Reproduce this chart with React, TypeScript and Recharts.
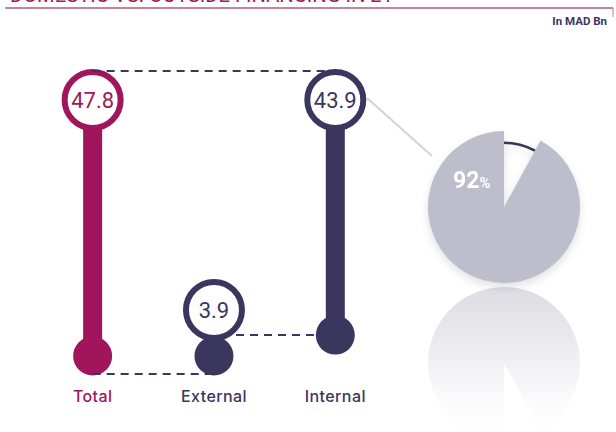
import { ComposedChart, Bar, XAxis, YAxis, ReferenceLine, PieChart, Pie, Cell } from 'recharts'

const CATEGORIES = ['Total', 'External', 'Internal']
const VALUES = [47.8, 3.9, 43.9]
const BASES = [0, 0, 3.9]
const COLORS = ['#a0155b', '#3a365e', '#3a365e']

const SHARE_NAMES = ['External', 'Internal']
const SHARE_VALUES = [8, 92]

const NAVY = '#3a365e'
const PIE_GREY = '#bebdcb'
const FONT = 'Roboto, "DejaVu Sans", sans-serif'

const data = CATEGORIES.map((name, i) => ({ name, base: BASES[i], value: VALUES[i] }))
const share = SHARE_NAMES.map((name, i) => ({ name, value: SHARE_VALUES[i] }))

function Lollipop(props: any) {
    const { x, y, width, height, index } = props
    const cx = x + width / 2
    const bottom = y + height
    const top = Math.min(y, bottom - 46)
    const color = COLORS[index]
    return (
        <g>
            <rect x={cx - 9.5} y={top} width={19} height={bottom - top} fill={color} />
            <circle cx={cx} cy={bottom} r={19.5} fill={color} />
            <circle cx={cx} cy={top} r={28} fill="#fff" stroke={color} strokeWidth={6} />
            <text x={cx} y={top + 8} textAnchor="middle" fontSize={22} fill={color} fontFamily={FONT}>
                {VALUES[index]}
            </text>
        </g>
    )
}

function Tick(props: any) {
    const { x, y, payload, index } = props
    return (
        <text x={x} y={y + 38} textAnchor="middle" fontSize={16} fontWeight={500} letterSpacing={0.4} fill={COLORS[index]} fontFamily='Inter, Roboto, sans-serif'>
            {payload.value}
        </text>
    )
}

const dashed = (dy: number, startPad = 0) => (p: any) => (
    <line x1={p.x1 + startPad} y1={p.y1 + dy} x2={p.x2} y2={p.y2 + dy} stroke={NAVY} strokeWidth={2} strokeDasharray="8 6" />
)

function PieLabel(p: any) {
    if (p.index !== 1) return null
    return (
        <text x={p.cx - 51} y={p.cy - 19} fill="#fff" fontWeight={700} fontFamily={FONT}>
            <tspan fontSize={23}>{SHARE_VALUES[1]}</tspan>
            <tspan fontSize={15}>%</tspan>
        </text>
    )
}

export default function App() {
    return (
        <div style={{ position: 'absolute', left: 0, top: 0, width: 616, height: 432, overflow: 'hidden', background: '#fff' }}>
            <svg width={616} height={432} style={{ position: 'absolute', left: 0, top: 0 }}>
                <text x={10} y={2} fontSize={20} fill="#a0155b" fontFamily={FONT} textLength={383} lengthAdjust="spacingAndGlyphs">
                    DOMESTIC VS. OUTSIDE FINANCING IN 21
                </text>
                <line x1={5} y1={8} x2={613} y2={8} stroke="#c8809f" strokeWidth={2} />
                <line x1={613} y1={8} x2={613} y2={17} stroke="#c8809f" strokeWidth={1} />
                <text x={607} y={25} textAnchor="end" fontSize={11.5} fontWeight={700} fill={NAVY} fontFamily={FONT}>
                    In MAD Bn
                </text>
                <line x1={367} y1={98} x2={432} y2={156} stroke="#d3d2de" strokeWidth={2} />
            </svg>

            <div style={{ position: 'absolute', left: 0, top: 0 }}>
                <ComposedChart width={616} height={432} data={data} margin={{ top: 100, right: 220, bottom: 36, left: 32 }}>
                    <XAxis dataKey="name" axisLine={false} tickLine={false} height={40} tick={<Tick />} />
                    <YAxis hide domain={[0, 47.8]} />
                    <ReferenceLine segment={[{ x: 'Total', y: 47.8 }, { x: 'Internal', y: 47.8 }]} shape={dashed(-29)} />
                    <ReferenceLine segment={[{ x: 'Total', y: 0 }, { x: 'External', y: 0 }]} shape={dashed(18)} />
                    <ReferenceLine segment={[{ x: 'External', y: 3.9 }, { x: 'Internal', y: 3.9 }]} shape={dashed(0, 22)} />
                    <Bar dataKey="base" stackId="a" fill="transparent" isAnimationActive={false} />
                    <Bar dataKey="value" stackId="a" shape={(p: any) => <Lollipop {...p} />} isAnimationActive={false} />
                </ComposedChart>
            </div>

            {/* reflection */}
            <div style={{ position: 'absolute', left: 404, top: 263, transform: 'scaleY(-1)' }}>
                <PieChart width={200} height={200}>
                    <defs>
                        <linearGradient id="refl" x1="0" y1="0" x2="0" y2="1">
                            <stop offset="0%" stopColor="#ffffff" />
                            <stop offset="25%" stopColor="#fbfbfc" />
                            <stop offset="100%" stopColor="#dcdce2" />
                        </linearGradient>
                    </defs>
                    <Pie data={share} dataKey="value" cx="50%" cy="50%" outerRadius={76} startAngle={90} endAngle={-270} stroke="none" isAnimationActive={false}>
                        {share.map((s, i) => (
                            <Cell key={s.name} fill={i === 0 ? 'transparent' : 'url(#refl)'} />
                        ))}
                    </Pie>
                </PieChart>
            </div>

            <div style={{ position: 'absolute', left: 404, top: 107, filter: 'drop-shadow(0 4px 4px rgba(0,0,0,0.12))' }}>
                <PieChart width={200} height={200}>
                    <Pie
                        data={share}
                        dataKey="value"
                        cx="50%"
                        cy="50%"
                        outerRadius={76}
                        startAngle={90}
                        endAngle={-270}
                        stroke="none"
                        label={PieLabel}
                        labelLine={false}
                        isAnimationActive={false}
                    >
                        {share.map((s, i) => (
                            <Cell key={s.name} fill={i === 0 ? 'transparent' : PIE_GREY} />
                        ))}
                    </Pie>
                    <Pie
                        data={share}
                        dataKey="value"
                        cx="50%"
                        cy="50%"
                        innerRadius={63}
                        outerRadius={65.5}
                        startAngle={90}
                        endAngle={-270}
                        stroke="none"
                        isAnimationActive={false}
                    >
                        {share.map((s, i) => (
                            <Cell key={s.name} fill={i === 0 ? NAVY : 'transparent'} />
                        ))}
                    </Pie>
                </PieChart>
            </div>
        </div>
    )
}
